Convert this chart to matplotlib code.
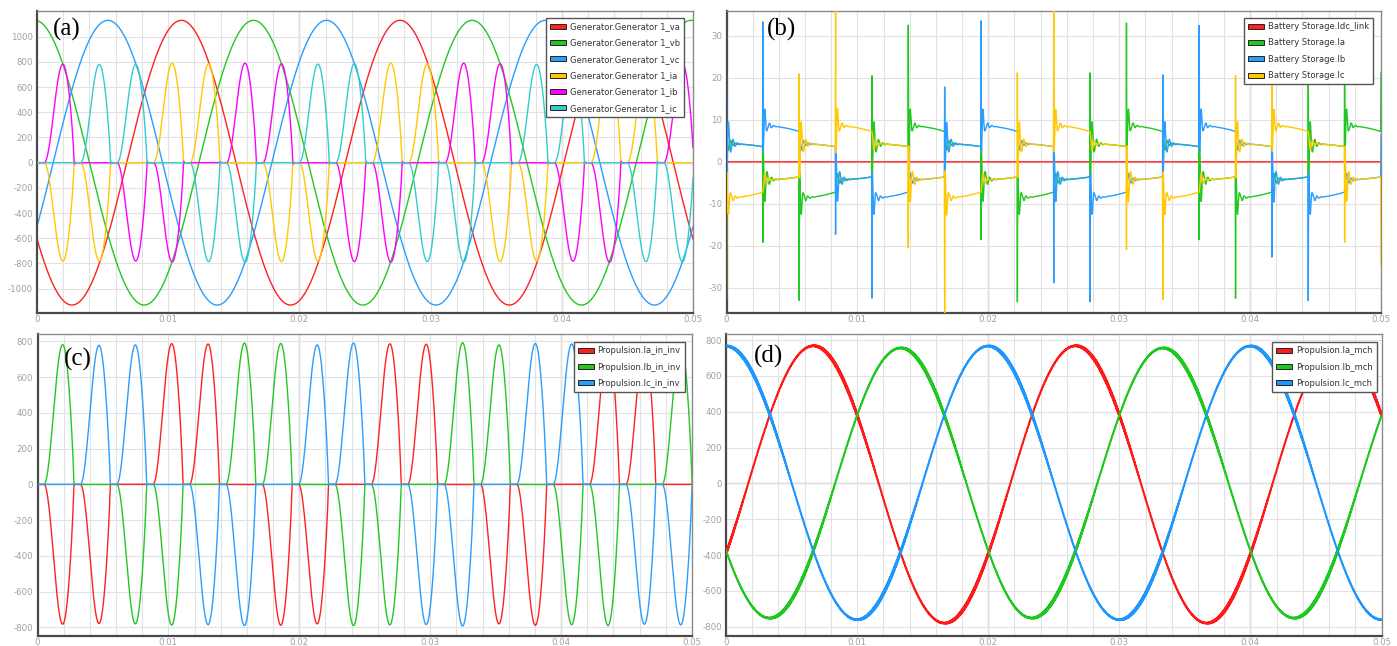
import numpy as np
import matplotlib
matplotlib.use("Agg")
import matplotlib.pyplot as plt
from matplotlib.patches import Patch

# ------------------------------------------------------------------ data
T_END = 0.05
t = np.linspace(0.0, T_END, 25001)

x_ticks = [0.0, 0.01, 0.02, 0.03, 0.04, 0.05]
x_tick_labels = ["0", "0.01", "0.02", "0.03", "0.04", "0.05"]

# (a) generator voltages / currents
gen_labels = ["Generator.Generator 1_va", "Generator.Generator 1_vb", "Generator.Generator 1_vc",
              "Generator.Generator 1_ia", "Generator.Generator 1_ib", "Generator.Generator 1_ic"]
gen_colors = ["#ff2020", "#22c822", "#2a9dff", "#ffc800", "#ff00ff", "#33cccc"]
gen_v_amp = [1130, 1130, 1130]
gen_v_freq = 60.0
gen_v_peak_t = [0.0110, 0.0165, 0.0054]
gen_pulse_t0 = 0.00197
gen_pulse_step = 1.0 / 360.0
gen_pulse_pos_phase = [1, 2, 2, 0, 0, 1]     # phase with positive pulse (k mod 6)
gen_pulse_neg_phase = [0, 0, 1, 1, 2, 2]     # phase with negative pulse (k mod 6)
gen_pulse_peak = [782, 780, 780, 788, 785, 790, 785, 782, 785, 790, 785, 790,
                  785, 780, 782, 790, 785, 788]
pulse_rise = 0.00142
pulse_fall = 0.00086
gen_yticks = [-1000, -800, -600, -400, -200, 0, 200, 400, 600, 800, 1000]
gen_ylim = (-1193, 1204)

# (b) battery storage currents
bat_labels = ["Battery Storage.Idc_link", "Battery Storage.Ia", "Battery Storage.Ib", "Battery Storage.Ic"]
bat_colors = ["#ff2020", "#22c822", "#2a9dff", "#ffc800"]
bat_event_step = 1.0 / 360.0
bat_extreme_phase = [2, 1, 0, 2, 1, 0]       # phase at +/-8 A in interval j mod 6
bat_extreme_sign = [-1, 1, -1, 1, -1, 1]
bat_level_start = 8.6
bat_level_end = 7.2
bat_spikes = [(0, 24, -29), (-23, 30, 0), (-30, 0, 25), (0, -21.5, 34), (25, -30, 0),
              (30, 0, -25), (0, 22, -34), (-22.5, 30.5, 0), (-30, 0, 25), (0, -24.5, 30),
              (25, -30, 0), (30, 0, -25), (0, 25, -30), (-23, 30, 0), (-30, 0, 25),
              (0, -27, 29), (25, -30, 0), (30, 0, -23), (14, 10, -21)]
bat_yticks = [-30, -20, -10, 0, 10, 20, 30]
bat_ylim = (-36.0, 35.9)

# (c) propulsion inverter input currents
inv_labels = ["Propulsion.Ia_in_inv", "Propulsion.Ib_in_inv", "Propulsion.Ic_in_inv"]
inv_colors = ["#ff2020", "#22c822", "#2a9dff"]
inv_pulse_t0 = 0.00192
inv_pulse_step = 1.0 / 360.0
inv_pulse_pos_phase = [1, 2, 2, 0, 0, 1]
inv_pulse_neg_phase = [0, 0, 1, 1, 2, 2]
inv_pulse_peak = [782, 778, 780, 787, 785, 790, 788, 780, 790, 786, 784, 792,
                  780, 788, 785, 790, 782, 786]
inv_yticks = [-800, -600, -400, -200, 0, 200, 400, 600, 800]
inv_ylim = (-848, 841)

# (d) propulsion machine currents
mch_labels = ["Propulsion.Ia_mch", "Propulsion.Ib_mch", "Propulsion.Ic_mch"]
mch_colors = ["#ff1a1a", "#1ec81e", "#1e96ff"]
mch_amp = [774, 754, 764]
mch_offset = [-6, 2, 3]
mch_freq = 50.0
mch_peak_t = [0.00667, 0.01333, 0.0]
mch_ripple = [12, 12, 12]
mch_ripple_freq = 21000.0
mch_yticks = [-800, -600, -400, -200, 0, 200, 400, 600, 800]
mch_ylim = (-852, 834)


# ------------------------------------------------------------------ helpers
def pulse(tt, tc, amp):
    y = np.zeros_like(tt)
    m1 = (tt >= tc - pulse_rise) & (tt < tc)
    u = (tt[m1] - (tc - pulse_rise)) / pulse_rise
    y[m1] = amp * np.sin(np.pi / 2 * u) ** 2
    m2 = (tt >= tc) & (tt < tc + pulse_fall)
    v = (tt[m2] - tc) / pulse_fall
    y[m2] = amp * np.cos(np.pi / 2 * v) ** 0.8
    return y


def glitch(tt, te, amp):
    y = np.zeros_like(tt)
    m = (tt >= te) & (tt < te + 0.0003)
    d = tt[m] - te
    y[m] = amp * np.exp(-d / 4e-5) * np.sin(2 * np.pi * 7000 * d)
    return y


def pulse_currents(t0, step, pos, neg, peaks, with_glitch):
    cur = np.zeros((3, t.size))
    for k, pk in enumerate(peaks):
        tc = t0 + k * step
        p = pulse(t, tc, pk)
        cur[pos[k % 6]] += p
        cur[neg[k % 6]] -= p
        if with_glitch:
            te = tc + pulse_fall
            cur[pos[k % 6]] += glitch(t, te, -22)
            cur[neg[k % 6]] += glitch(t, te, 22)
    return cur


def bat_levels(j, u):
    p = bat_extreme_phase[j % 6]
    s = bat_extreme_sign[j % 6]
    m = bat_level_start - (bat_level_start - bat_level_end) * u ** 2
    out = np.empty((3, np.size(u)))
    for q in range(3):
        out[q] = s * m if q == p else -s * m / 2
    return out


W, H = 1397, 646
fig = plt.figure(figsize=(W / 100, H / 100), dpi=100)


def add_ax(x0, x1, y0, y1):
    return fig.add_axes([x0 / W, 1 - y1 / H, (x1 - x0) / W, (y1 - y0) / H])


def style(ax, ylim, yticks):
    ax.set_xlim(0, T_END)
    ax.set_ylim(*ylim)
    ax.set_xticks(x_ticks)
    ax.set_xticklabels(x_tick_labels)
    ax.set_yticks(yticks)
    ax.set_yticklabels([str(v) for v in yticks])
    ax.set_xticks(np.arange(0.002, 0.05, 0.002), minor=True)
    ax.tick_params(which="both", length=0, labelsize=6.2, colors="#a0a0a0")
    ax.tick_params(axis="y", pad=3)
    ax.tick_params(axis="x", pad=1.5)
    ax.grid(True, which="both", color="#e2e2e2", lw=0.8, zorder=0)
    ax.set_axisbelow(True)
    for xv in (0.02, 0.04):
        ax.axvline(xv, color="#9a9a9a", lw=0.9, zorder=0.5)
    ax.axhline(0, color="#9a9a9a", lw=0.9, zorder=0.5)
    for side in ("left", "bottom"):
        ax.spines[side].set_color("#4a4a4a")
        ax.spines[side].set_linewidth(1.6)
    for side in ("top", "right"):
        ax.spines[side].set_color("#8a8a8a")
        ax.spines[side].set_linewidth(1.0)


def legend(ax, labels, colors, anchor):
    handles = [Patch(facecolor=c, edgecolor="#222222", lw=0.7) for c in colors]
    leg = ax.legend(handles, labels, loc="upper right", bbox_to_anchor=anchor,
                    borderaxespad=0, fontsize=6.0, frameon=True, fancybox=False,
                    edgecolor="#555555", framealpha=1, handlelength=1.9,
                    handleheight=0.55, labelspacing=0.88, borderpad=0.5,
                    handletextpad=0.45)
    leg.get_frame().set_linewidth(1.0)
    for txt in leg.get_texts():
        txt.set_color("#333333")
    leg.set_zorder(10)


def panel_label(ax, x, y, s):
    ax.text(x, y, s, transform=ax.transAxes, ha="left", va="top",
            fontsize=18, family="Liberation Serif", color="black", zorder=11)


# ------------------------------------------------------------------ (a)
ax_a = add_ax(37, 693, 11, 313)
style(ax_a, gen_ylim, gen_yticks)
for i in range(3):
    v = gen_v_amp[i] * np.cos(2 * np.pi * gen_v_freq * (t - gen_v_peak_t[i]))
    ax_a.plot(t, v, color=gen_colors[i], lw=1.0, zorder=2)
gen_i = pulse_currents(gen_pulse_t0, gen_pulse_step, gen_pulse_pos_phase,
                       gen_pulse_neg_phase, gen_pulse_peak, True)
for i in range(3):
    ax_a.plot(t, gen_i[i], color=gen_colors[3 + i], lw=1.0, zorder=3)
legend(ax_a, gen_labels, gen_colors, (0.986, 0.977))
panel_label(ax_a, 0.024, 0.978, "(a)")

# ------------------------------------------------------------------ (b)
ax_b = add_ax(726.5, 1381, 11, 313)
style(ax_b, bat_ylim, bat_yticks)
n_ev = len(bat_spikes)
ev_t = np.arange(n_ev) * bat_event_step
bat = np.zeros((3, t.size))
for j in range(n_ev):
    m = (t >= ev_t[j] - 1e-12) & (t < ev_t[j] + bat_event_step)
    u = (t[m] - ev_t[j]) / bat_event_step
    bat[:, m] = bat_levels(j, u)
for j in range(n_ev):
    te = ev_t[j]
    d = bat_levels(j, np.array([0.0]))[:, 0] - bat_levels(j - 1, np.array([1.0]))[:, 0]
    m = (t >= te) & (t < te + 0.0014)
    dt_ = t[m] - te
    ring = np.exp(-dt_ / 2.5e-4) * np.cos(2 * np.pi * 3000 * dt_)
    for q in range(3):
        bat[q, m] -= d[q] * ring
        amp = bat_spikes[j][q]
        if amp != 0:
            bat[q] += amp * np.clip(1 - np.abs(t - te) / 2.5e-5, 0, None)
            bat[q, m] -= 0.12 * amp * np.exp(-dt_ / 1.5e-4) * np.sin(2 * np.pi * 5000 * dt_)
ax_b.plot(t, np.zeros_like(t), color=bat_colors[0], lw=1.0, zorder=2)
for q in range(3):
    ax_b.plot(t, bat[q], color=bat_colors[q + 1], lw=1.0, zorder=3)
legend(ax_b, bat_labels, bat_colors, (0.988, 0.977))
panel_label(ax_b, 0.061, 0.978, "(b)")

# ------------------------------------------------------------------ (c)
ax_c = add_ax(37.5, 692, 334, 636)
style(ax_c, inv_ylim, inv_yticks)
inv_i = pulse_currents(inv_pulse_t0, inv_pulse_step, inv_pulse_pos_phase,
                       inv_pulse_neg_phase, inv_pulse_peak, False)
for i in range(3):
    ax_c.plot(t, inv_i[i], color=inv_colors[i], lw=1.0, zorder=3)
legend(ax_c, inv_labels, inv_colors, (0.989, 0.9735))
panel_label(ax_c, 0.040, 0.955, "(c)")

# ------------------------------------------------------------------ (d)
ax_d = add_ax(726, 1381.5, 334, 636)
style(ax_d, mch_ylim, mch_yticks)
for i in range(3):
    th = 2 * np.pi * mch_freq * (t - mch_peak_t[i])
    mod = 0.2 + 0.8 * np.clip(np.sin(2 * th), 0, None)
    y = mch_offset[i] + mch_amp[i] * np.cos(th) \
        + mch_ripple[i] * mod * np.sin(2 * np.pi * mch_ripple_freq * t)
    ax_d.plot(t, y, color=mch_colors[i], lw=1.4, zorder=3)
legend(ax_d, mch_labels, mch_colors, (0.993, 0.9735))
panel_label(ax_d, 0.043, 0.965, "(d)")

fig.savefig("out.png", dpi=100)
